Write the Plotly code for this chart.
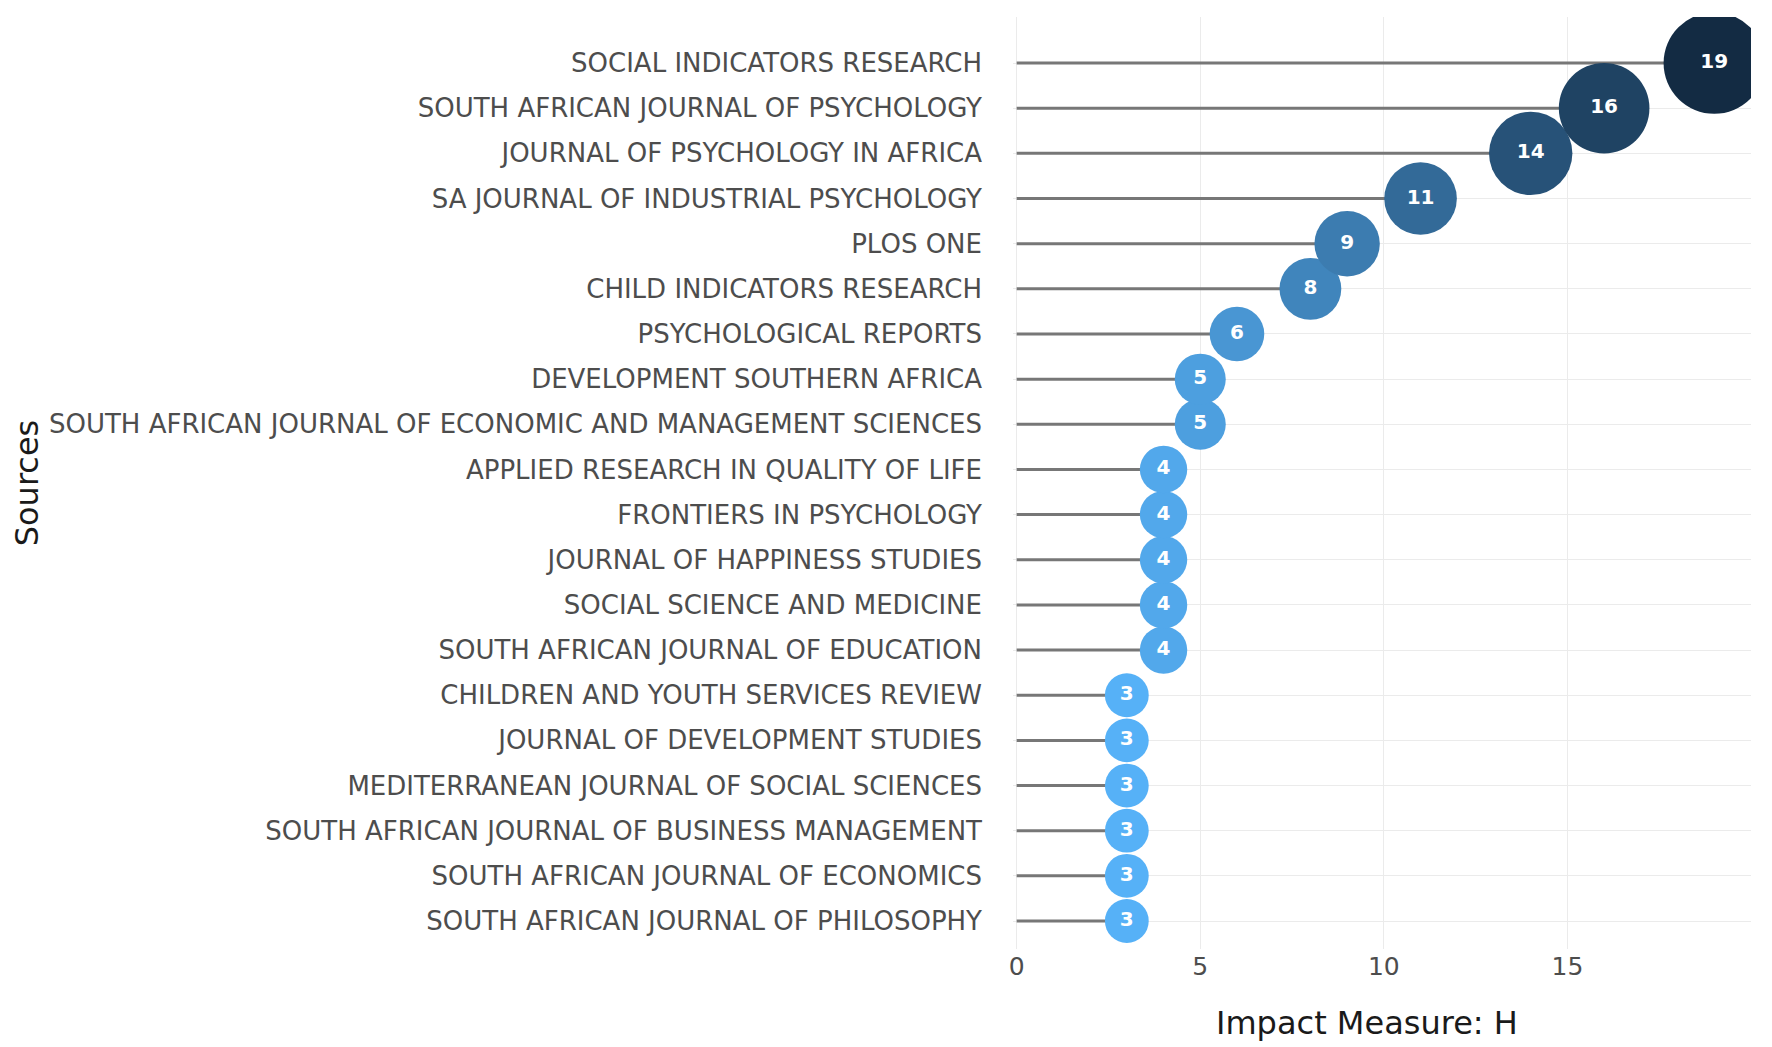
import plotly.graph_objects as go

sources = [
    "SOCIAL INDICATORS RESEARCH",
    "SOUTH AFRICAN JOURNAL OF PSYCHOLOGY",
    "JOURNAL OF PSYCHOLOGY IN AFRICA",
    "SA JOURNAL OF INDUSTRIAL PSYCHOLOGY",
    "PLOS ONE",
    "CHILD INDICATORS RESEARCH",
    "PSYCHOLOGICAL REPORTS",
    "DEVELOPMENT SOUTHERN AFRICA",
    "SOUTH AFRICAN JOURNAL OF ECONOMIC AND MANAGEMENT SCIENCES",
    "APPLIED RESEARCH IN QUALITY OF LIFE",
    "FRONTIERS IN PSYCHOLOGY",
    "JOURNAL OF HAPPINESS STUDIES",
    "SOCIAL SCIENCE AND MEDICINE",
    "SOUTH AFRICAN JOURNAL OF EDUCATION",
    "CHILDREN AND YOUTH SERVICES REVIEW",
    "JOURNAL OF DEVELOPMENT STUDIES",
    "MEDITERRANEAN JOURNAL OF SOCIAL SCIENCES",
    "SOUTH AFRICAN JOURNAL OF BUSINESS MANAGEMENT",
    "SOUTH AFRICAN JOURNAL OF ECONOMICS",
    "SOUTH AFRICAN JOURNAL OF PHILOSOPHY",
]
h_index = [19, 16, 14, 11, 9, 8, 6, 5, 5, 4, 4, 4, 4, 4, 3, 3, 3, 3, 3, 3]
x_ticks = [0, 5, 10, 15]

# plot bottom-to-top
src = sources[::-1]
vals = h_index[::-1]

seg_x, seg_y = [], []
for s, v in zip(src, vals):
    seg_x += [0, v, None]
    seg_y += [s, s, None]

FONT = "DejaVu Sans"

fig = go.Figure()
fig.add_trace(go.Scatter(
    x=seg_x, y=seg_y, mode="lines",
    line=dict(color="#777777", width=3),
    hoverinfo="skip", showlegend=False,
))
fig.add_trace(go.Scatter(
    x=vals, y=src, mode="markers+text",
    text=[str(v) for v in vals],
    textposition="middle center",
    textfont=dict(color="white", size=20, family=FONT, weight="bold"),
    marker=dict(
        size=[33 + 3.6 * v for v in vals], sizemode="diameter",
        color=vals, cmin=min(vals), cmax=max(vals),
        colorscale=[[0, "#56B1F7"], [0.5, "#336A98"], [1, "#132B43"]],
        line=dict(width=0), opacity=1,
    ),
    showlegend=False,
))

fig.update_layout(
    width=1772, height=1047,
    margin=dict(l=1005, r=29, t=9, b=106),
    plot_bgcolor="white", paper_bgcolor="white",
    font=dict(family=FONT, color="#4D4D4D"),
    annotations=[dict(
        text="Impact Measure: H", xref="paper", yref="paper",
        x=0.48, y=-0.0794, xanchor="center", yanchor="middle",
        showarrow=False, font=dict(size=32, color="#1A1A1A", family=FONT),
    )],
)
fig.update_xaxes(
    range=[-0.1, 20.0], tickvals=x_ticks, ticktext=[str(t) for t in x_ticks],
    showgrid=True, gridcolor="#EBEBEB", gridwidth=1, zeroline=False,
    tickfont=dict(size=25, color="#4D4D4D"),
    showline=False, ticks="", automargin=False,
)
fig.update_yaxes(
    categoryorder="array", categoryarray=src,
    range=[-0.62, 20.02],
    showgrid=True, gridcolor="#EBEBEB", gridwidth=1, zeroline=False,
    tickfont=dict(size=26, color="#4D4D4D"),
    ticklabelstandoff=30,
    title=dict(text="Sources", font=dict(size=32, color="#1A1A1A"), standoff=4),
    showline=False, ticks="", automargin=False,
)

fig.write_html("out.html")
